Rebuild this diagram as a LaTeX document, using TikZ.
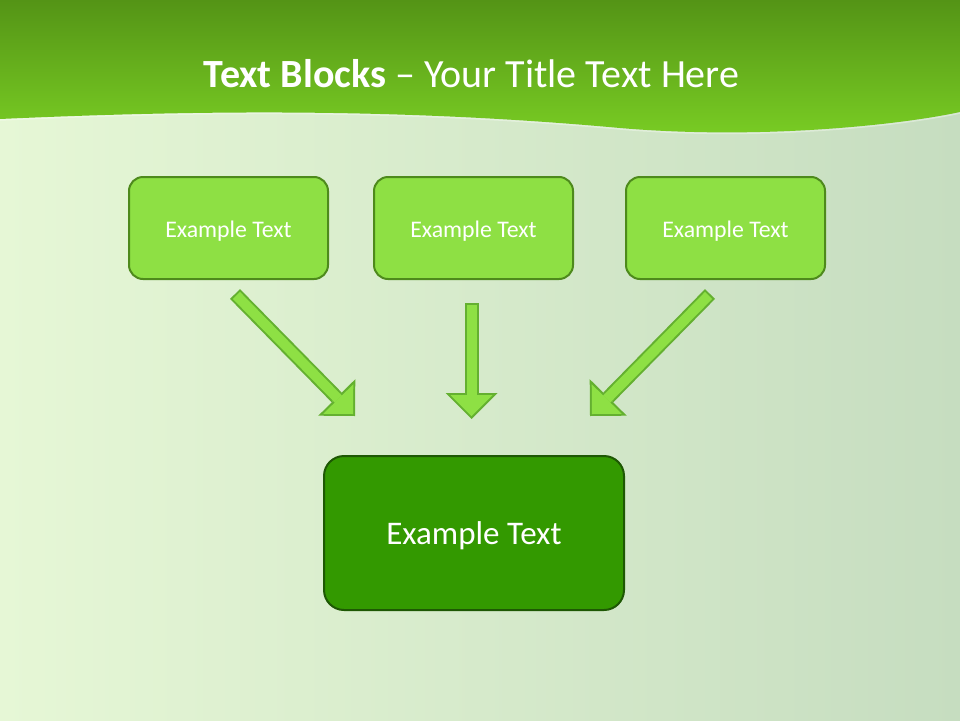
\documentclass[tikz,border=0pt]{standalone}
\usepackage{fontspec}
\setmainfont{Carlito}
\usetikzlibrary{arrows.meta}
\definecolor{bgleft}{RGB}{230,247,214}
\definecolor{bgmid}{RGB}{212,234,200}
\definecolor{bgright}{RGB}{198,221,192}
\definecolor{headtop}{RGB}{84,148,22}
\definecolor{headbot}{RGB}{122,206,36}
\definecolor{boxgreen}{RGB}{142,224,68}
\definecolor{boxline}{RGB}{78,138,28}
\definecolor{darkgreen}{RGB}{51,153,0}
\definecolor{darkline}{RGB}{30,88,4}
\definecolor{arrowline}{RGB}{100,176,48}

\begin{document}
\begin{tikzpicture}[x=1pt,y=-1pt,
	top_node/.style={rectangle,rounded corners=14pt,fill=boxgreen,draw=boxline,line width=2pt,minimum width=199pt,minimum height=102pt,text=white,text height=22pt,font=\fontsize{23.8}{28}\selectfont},
	main_node/.style={rectangle,rounded corners=20pt,fill=darkgreen,draw=darkline,line width=2pt,minimum width=300pt,minimum height=154pt,text=white,text height=29pt,font=\fontsize{33}{39}\selectfont},
	arrow_out/.style={draw=arrowline,line width=14pt,-{Triangle[width=52pt,length=26pt,line width=0pt]}},
	arrow_in/.style={draw=boxgreen,line width=10pt,shorten <=2pt,shorten >=2.8pt,-{Triangle[width=42pt,length=21pt,line width=0pt]}}]

		\useasboundingbox (0,0) rectangle (960,720);
		\shade[left color=bgleft,middle color=bgmid,right color=bgright] (0,0) rectangle (960,720);
		\shade[top color=headtop,bottom color=headbot] (0,0) -- (960,0) -- (960,112)
			.. controls (900,125) and (760,140) .. (620,128)
			.. controls (400,108) and (200,110) .. (0,119) -- cycle;
		\draw[white,opacity=0.35,line width=1.5pt] (960,113)
			.. controls (900,126) and (760,141) .. (620,129)
			.. controls (400,109) and (200,111) .. (0,120);

		\node[text=white,font=\fontsize{40}{46}\selectfont,anchor=base] (title) at (471.5,87) {\textbf{Text Blocks} – Your Title Text Here};

		\node[top_node] (b1) at (228.5,228) {Example Text};
		\node[top_node] (b2) at (473.5,228) {Example Text};
		\node[top_node] (b3) at (725.5,228) {Example Text};
		\node[main_node] (main) at (474,533) {Example Text};

		\coordinate (s1) at (235,294);
		\coordinate (e1) at (355,416);
		\coordinate (s2) at (471.5,303);
		\coordinate (e2) at (471.5,419);
		\coordinate (s3) at (710,294);
		\coordinate (e3) at (590,416);

		\draw[arrow_out] (s1) -- (e1);
		\draw[arrow_in] (s1) -- (e1);
		\draw[arrow_out] (s2) -- (e2);
		\draw[arrow_in] (s2) -- (e2);
		\draw[arrow_out] (s3) -- (e3);
		\draw[arrow_in] (s3) -- (e3);
		\end{tikzpicture}
\end{document}
